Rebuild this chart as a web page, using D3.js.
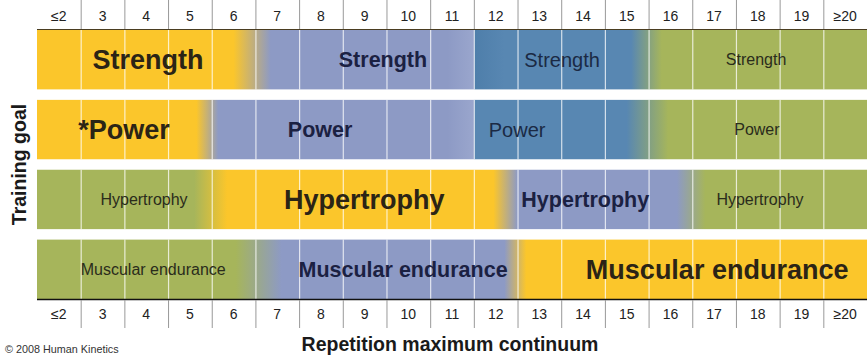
<!DOCTYPE html>
<html lang="en">
<head>
    <meta charset="utf-8">
    <title>Repetition maximum continuum</title>
    <script src="https://d3js.org/d3.v7.min.js"></script>
    <style>
        body{ margin: 0; background: #fff; }
        text{ font-family: "Liberation Sans", Arial, sans-serif; }
        .tickT{ font-size: 14px; fill: #222; }
        .axisT{ font-size: 19.5px; font-weight: bold; fill: #1a1a1a; }
        .creditT{ font-size: 10.8px; fill: #333; }
    </style>
</head>
<body>
    <div id="container"></div>
    <script type="text/javascript">
        // rep columns, left to right
        var reps = ['≤2','3','4','5','6','7','8','9','10','11','12','13','14','15','16','17','18','19','≥20'];
        var goals = ['Strength', 'Power', 'Hypertrophy', 'Muscular endurance'];

        // colour zones along the continuum: [column position, zone]
        var strengthStops = [[0,'Y'],[4.5,'Y'],[5.35,'P'],[9.4,'P'],[10,'PL'],[10,'BD'],[10.7,'B'],[13.6,'B'],[14.3,'G'],[19,'G']];
        var powerStops    = [[0,'Y'],[3.65,'Y'],[4.15,'P'],[9.4,'P'],[10,'PL'],[10,'B'],[13.5,'B'],[14.45,'G'],[19,'G']];
        var hyperStops    = [[0,'G'],[3.6,'G'],[4.35,'Y'],[10.45,'Y'],[11,'P'],[14.65,'P'],[15.3,'G'],[19,'G']];
        var enduranceStops= [[0,'G'],[4.55,'G'],[5.6,'P'],[10.7,'P'],[11.2,'Y'],[19,'Y']];

        // labels per goal: [column centre, emphasis level 0-3, text]
        var strengthLabels = [[2.54,3,'Strength'],[7.92,2,'Strength'],[12.02,1,'Strength'],[16.46,0,'Strength']];
        var powerLabels    = [[1.99,3,'*Power'],[6.48,2,'Power'],[10.99,1,'Power'],[16.48,0,'Power']];
        var hyperLabels    = [[2.45,0,'Hypertrophy'],[7.49,3,'Hypertrophy'],[12.55,2,'Hypertrophy'],[16.55,0,'Hypertrophy']];
        var enduranceLabels= [[2.66,0,'Muscular endurance'],[8.38,2,'Muscular endurance'],[15.57,3,'Muscular endurance']];

        var stops = [strengthStops, powerStops, hyperStops, enduranceStops];
        var labels = [strengthLabels, powerLabels, hyperLabels, enduranceLabels];

        var zoneColor = {Y:'#fbc62b', P:'#8d9ac5', PL:'#9aa6cd', B:'#5887b2', BD:'#4e7eaa', G:'#a6b55b'};
        var zoneText  = {Y:'#2b2416', P:'#1b2142', PL:'#1b2142', B:'#1b2a44', BD:'#1b2a44', G:'#2a2c1c'};
        var levelStyle = [
            {size: 16, weight: 'normal'},
            {size: 20, weight: 'normal'},
            {size: 21.5, weight: 'bold'},
            {size: 27, weight: 'bold'}
        ];

        var width = 867, height = 361;
        var plotLeft = 37, plotTop = 30, plotBottom = 299;

        var svg = d3.select('#container')
                    .append('svg')
                    .attr('width', width)
                    .attr('height', height);

        var xScale = d3.scaleLinear().domain([0, reps.length]).range([plotLeft, width]);
        var yScale = d3.scaleBand().domain(goals).range([plotTop, plotBottom]).paddingInner(0.15);

        function zoneAt(arr, pos){
            var z = arr[0][1];
            arr.forEach(function(s){ if (s[0] <= pos) z = s[1]; });
            return z;
        }

        // gradients
        var defs = svg.append('defs');
        var x0 = xScale(0), x1 = xScale(reps.length);
        goals.forEach(function(g, i){
            var grad = defs.append('linearGradient')
                           .attr('id', 'grad' + i)
                           .attr('gradientUnits', 'userSpaceOnUse')
                           .attr('x1', x0).attr('x2', x1)
                           .attr('y1', 0).attr('y2', 0);
            grad.selectAll('stop')
                .data(stops[i])
                .enter()
                .append('stop')
                .attr('offset', d => (xScale(d[0]) - x0) / (x1 - x0))
                .attr('stop-color', d => zoneColor[d[1]]);
        });

        // bands
        svg.selectAll('.band')
           .data(goals)
           .enter()
           .append('rect')
           .attr('class', 'band')
           .attr('x', x0)
           .attr('width', x1 - x0)
           .attr('y', d => yScale(d))
           .attr('height', yScale.bandwidth())
           .attr('fill', (d, i) => 'url(#grad' + i + ')');

        // white column dividers inside bands
        var inner = d3.range(1, reps.length);
        goals.forEach(function(g){
            svg.selectAll(null)
               .data(inner)
               .enter()
               .append('line')
               .attr('x1', d => xScale(d) + 0.5)
               .attr('x2', d => xScale(d) + 0.5)
               .attr('y1', yScale(g))
               .attr('y2', yScale(g) + yScale.bandwidth())
               .attr('stroke', '#fff')
               .attr('stroke-opacity', 0.75)
               .attr('stroke-width', 1.2);
        });

        // band labels
        goals.forEach(function(g, i){
            svg.selectAll(null)
               .data(labels[i])
               .enter()
               .append('text')
               .attr('x', d => xScale(d[0]))
               .attr('y', yScale(g) + yScale.bandwidth() / 2)
               .attr('dy', '0.36em')
               .attr('text-anchor', 'middle')
               .style('font-size', d => levelStyle[d[1]].size + 'px')
               .style('font-weight', d => levelStyle[d[1]].weight)
               .attr('fill', d => zoneText[zoneAt(stops[i], d[0])])
               .text(d => d[2]);
        });

        // top and bottom axes
        svg.append('line')
           .attr('x1', x0).attr('x2', x1)
           .attr('y1', plotTop - 0.5).attr('y2', plotTop - 0.5)
           .attr('stroke', '#4a3d20').attr('stroke-width', 1);
        svg.append('line')
           .attr('x1', x0).attr('x2', x1)
           .attr('y1', plotBottom + 0.5).attr('y2', plotBottom + 0.5)
           .attr('stroke', '#111').attr('stroke-width', 1.6);

        svg.selectAll('.tickTop')
           .data(inner)
           .enter()
           .append('line')
           .attr('x1', d => xScale(d) + 0.5).attr('x2', d => xScale(d) + 0.5)
           .attr('y1', 0).attr('y2', plotTop - 1)
           .attr('stroke', '#999');
        svg.selectAll('.tickBot')
           .data(inner)
           .enter()
           .append('line')
           .attr('x1', d => xScale(d) + 0.5).attr('x2', d => xScale(d) + 0.5)
           .attr('y1', plotBottom + 1).attr('y2', 328)
           .attr('stroke', '#999');

        [21, 319].forEach(function(yy){
            svg.selectAll(null)
               .data(reps)
               .enter()
               .append('text')
               .attr('class', 'tickT')
               .attr('x', (d, i) => xScale(i + 0.5))
               .attr('y', yy)
               .attr('text-anchor', 'middle')
               .text(d => d);
        });

        // titles
        svg.append('text')
           .text('Training goal')
           .attr('class', 'axisT')
           .attr('text-anchor', 'middle')
           .attr('transform', 'translate(26,' + (plotTop + plotBottom) / 2 + ') rotate(-90)');
        svg.append('text')
           .text('Repetition maximum continuum')
           .attr('class', 'axisT')
           .attr('text-anchor', 'middle')
           .attr('x', 450)
           .attr('y', 351);
        svg.append('text')
           .text('© 2008 Human Kinetics')
           .attr('class', 'creditT')
           .attr('x', 5)
           .attr('y', 353);
    </script>
</body>
</html>
